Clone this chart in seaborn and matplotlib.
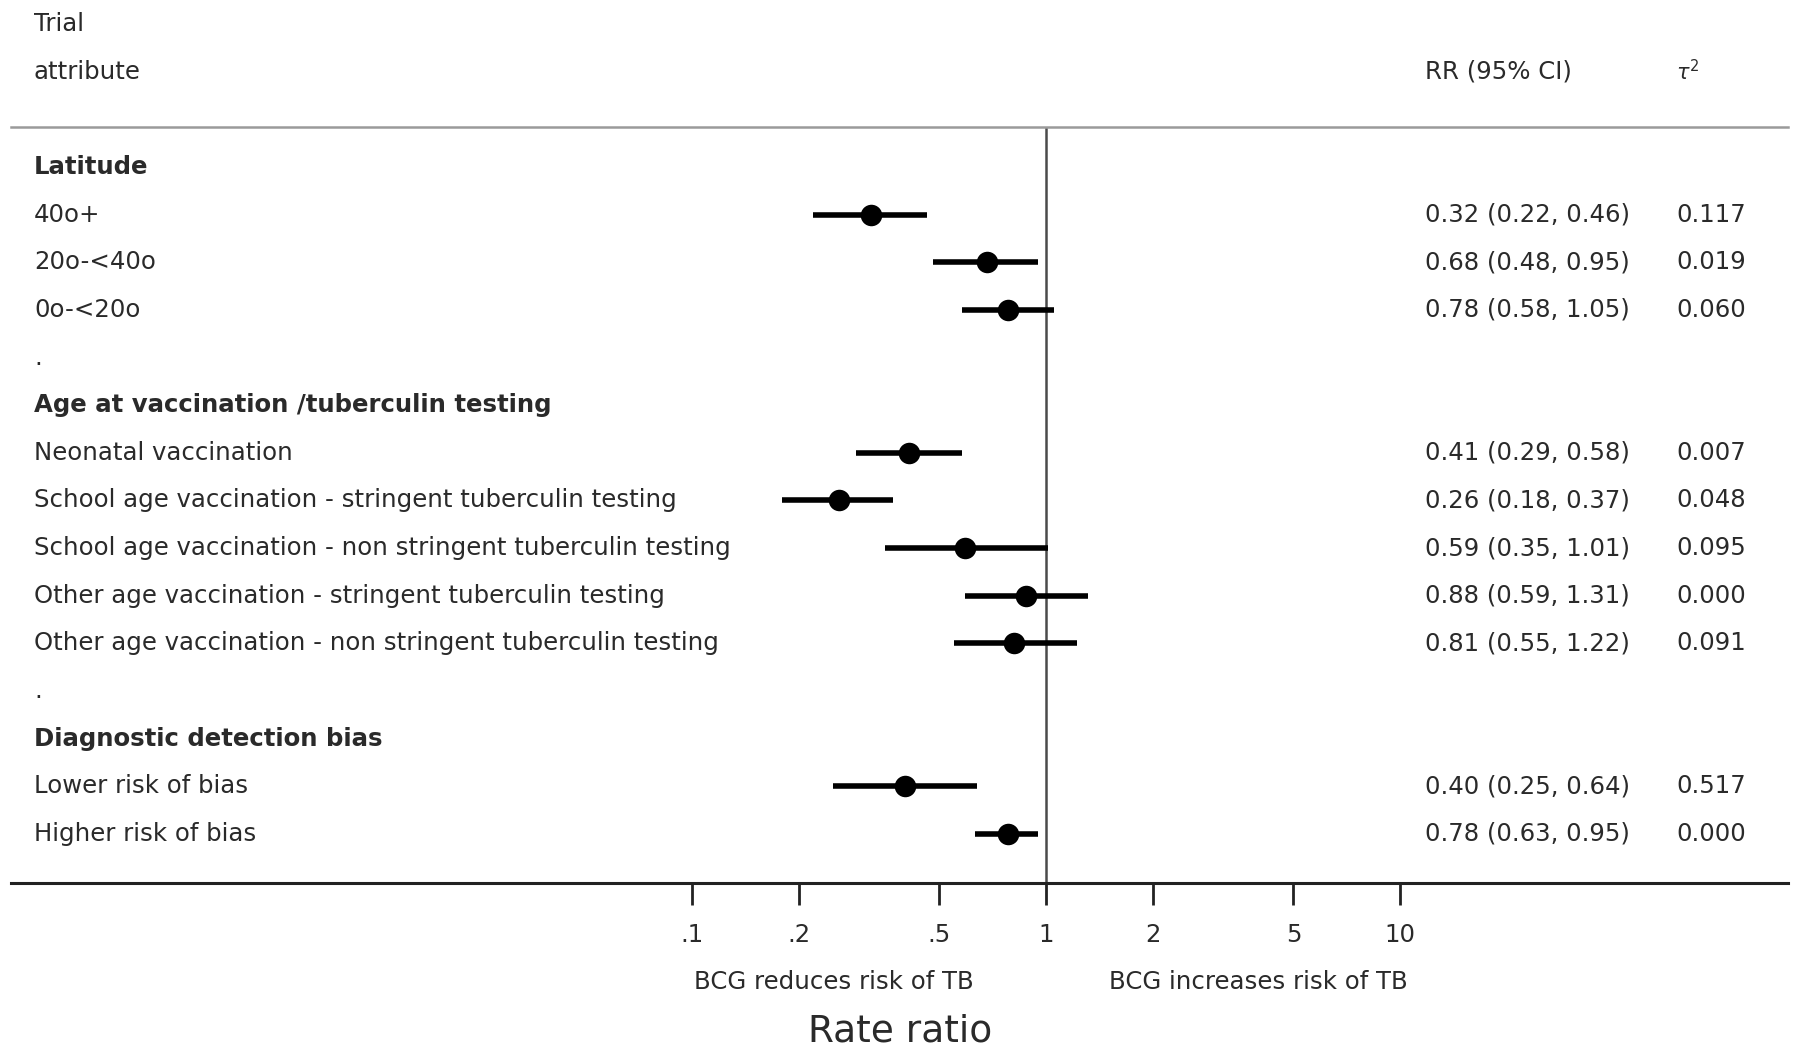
import numpy as np
import pandas as pd
import seaborn as sns
import matplotlib.pyplot as plt

# rows of the forest plot, top to bottom
row_labels = ["Latitude", "40o+", "20o-<40o", "0o-<20o", ".",
              "Age at vaccination /tuberculin testing",
              "Neonatal vaccination",
              "School age vaccination - stringent tuberculin testing",
              "School age vaccination - non stringent tuberculin testing",
              "Other age vaccination - stringent tuberculin testing",
              "Other age vaccination - non stringent tuberculin testing",
              ".", "Diagnostic detection bias",
              "Lower risk of bias", "Higher risk of bias"]
group_headers = ["Latitude", "Age at vaccination /tuberculin testing",
                 "Diagnostic detection bias"]
rr = [np.nan, 0.32, 0.68, 0.78, np.nan, np.nan, 0.41, 0.26, 0.59, 0.88, 0.81,
      np.nan, np.nan, 0.40, 0.78]
ci_low = [np.nan, 0.22, 0.48, 0.58, np.nan, np.nan, 0.29, 0.18, 0.35, 0.59, 0.55,
          np.nan, np.nan, 0.25, 0.63]
ci_high = [np.nan, 0.46, 0.95, 1.05, np.nan, np.nan, 0.58, 0.37, 1.01, 1.31, 1.22,
           np.nan, np.nan, 0.64, 0.95]
tau2 = ["", "0.117", "0.019", "0.060", "", "", "0.007", "0.048", "0.095", "0.000",
        "0.091", "", "", "0.517", "0.000"]
tick_vals = [0.1, 0.2, 0.5, 1, 2, 5, 10]
tick_labels = [".1", ".2", ".5", "1", "2", "5", "10"]

df = pd.DataFrame({"label": row_labels, "rr": rr, "lo": ci_low, "hi": ci_high,
                   "tau2": tau2})
df["row"] = np.arange(len(df))
est = df.dropna(subset=["rr"])

sns.set_style("white")
plt.rcParams["font.family"] = ["DejaVu Sans"]
txt = "#2a2a2a"
fs = 17.6

fig = plt.figure(figsize=(17.97, 10.53), dpi=100)
ax = fig.add_axes([11 / 1797, 1 - 883 / 1053, 1777 / 1797, (883 - 127) / 1053])
ax.set_xscale("log")
ax.set_xlim(10 ** -2.924, 10 ** 2.096)
ax.set_ylim(15.03, -0.84)

ax.axvline(1, color="#4a4a4a", lw=1.8, zorder=1)
ax.hlines(est["row"], est["lo"], est["hi"], color="black", lw=4, zorder=2)
sns.scatterplot(data=est, x="rr", y="row", s=240, color="black",
                edgecolor="black", linewidth=0, ax=ax, zorder=3, legend=False)

# spines: grey header rule on top, black axis at bottom
for s in ["left", "right"]:
    ax.spines[s].set_visible(False)
ax.spines["top"].set_color("#9a9a9a")
ax.spines["top"].set_linewidth(1.8)
ax.spines["bottom"].set_color("#222222")
ax.spines["bottom"].set_linewidth(2.2)

ax.set_yticks([])
ax.set_xticks(tick_vals)
ax.set_xticklabels(tick_labels)
ax.minorticks_off()
ax.tick_params(axis="x", length=16, width=2, pad=13, labelsize=fs,
               labelcolor=txt, color="#222222", direction="out", bottom=True)
ax.set_xlabel("")
ax.set_ylabel("")

tr = ax.get_yaxis_transform()
x_lab, x_rr, x_tau = 0.0129, 0.7957, 0.937
for _, r in df.iterrows():
    bold = r["label"] in group_headers
    ax.text(x_lab, r["row"], r["label"], transform=tr, va="center",
            ha="left", fontsize=fs, color=txt,
            fontweight="bold" if bold else "normal")
    if not np.isnan(r["rr"]):
        ax.text(x_rr, r["row"],
                f"{r['rr']:.2f} ({r['lo']:.2f}, {r['hi']:.2f})",
                transform=tr, va="center", ha="left", fontsize=fs, color=txt)
        ax.text(x_tau, r["row"], r["tau2"], transform=tr, va="center",
                ha="left", fontsize=fs, color=txt)

ax.text(x_lab, -3.0, "Trial", transform=tr, va="center", fontsize=fs, color=txt)
ax.text(x_lab, -2.0, "attribute", transform=tr, va="center", fontsize=fs, color=txt)
ax.text(x_rr, -2.0, "RR (95% CI)", transform=tr, va="center", fontsize=fs, color=txt)
ax.text(x_tau, -2.0, r"$\tau^2$", transform=tr, va="center", fontsize=15, color=txt)

fig.text(834 / 1797, 1 - 982 / 1053, "BCG reduces risk of TB", ha="center",
         va="center", fontsize=fs, color=txt)
fig.text(1258 / 1797, 1 - 982 / 1053, "BCG increases risk of TB", ha="center",
         va="center", fontsize=fs, color=txt)
fig.text(900 / 1797, 1 - 1032 / 1053, "Rate ratio", ha="center", va="center",
         fontsize=27, color=txt)

fig.savefig("out.png", dpi=100, facecolor="white")
